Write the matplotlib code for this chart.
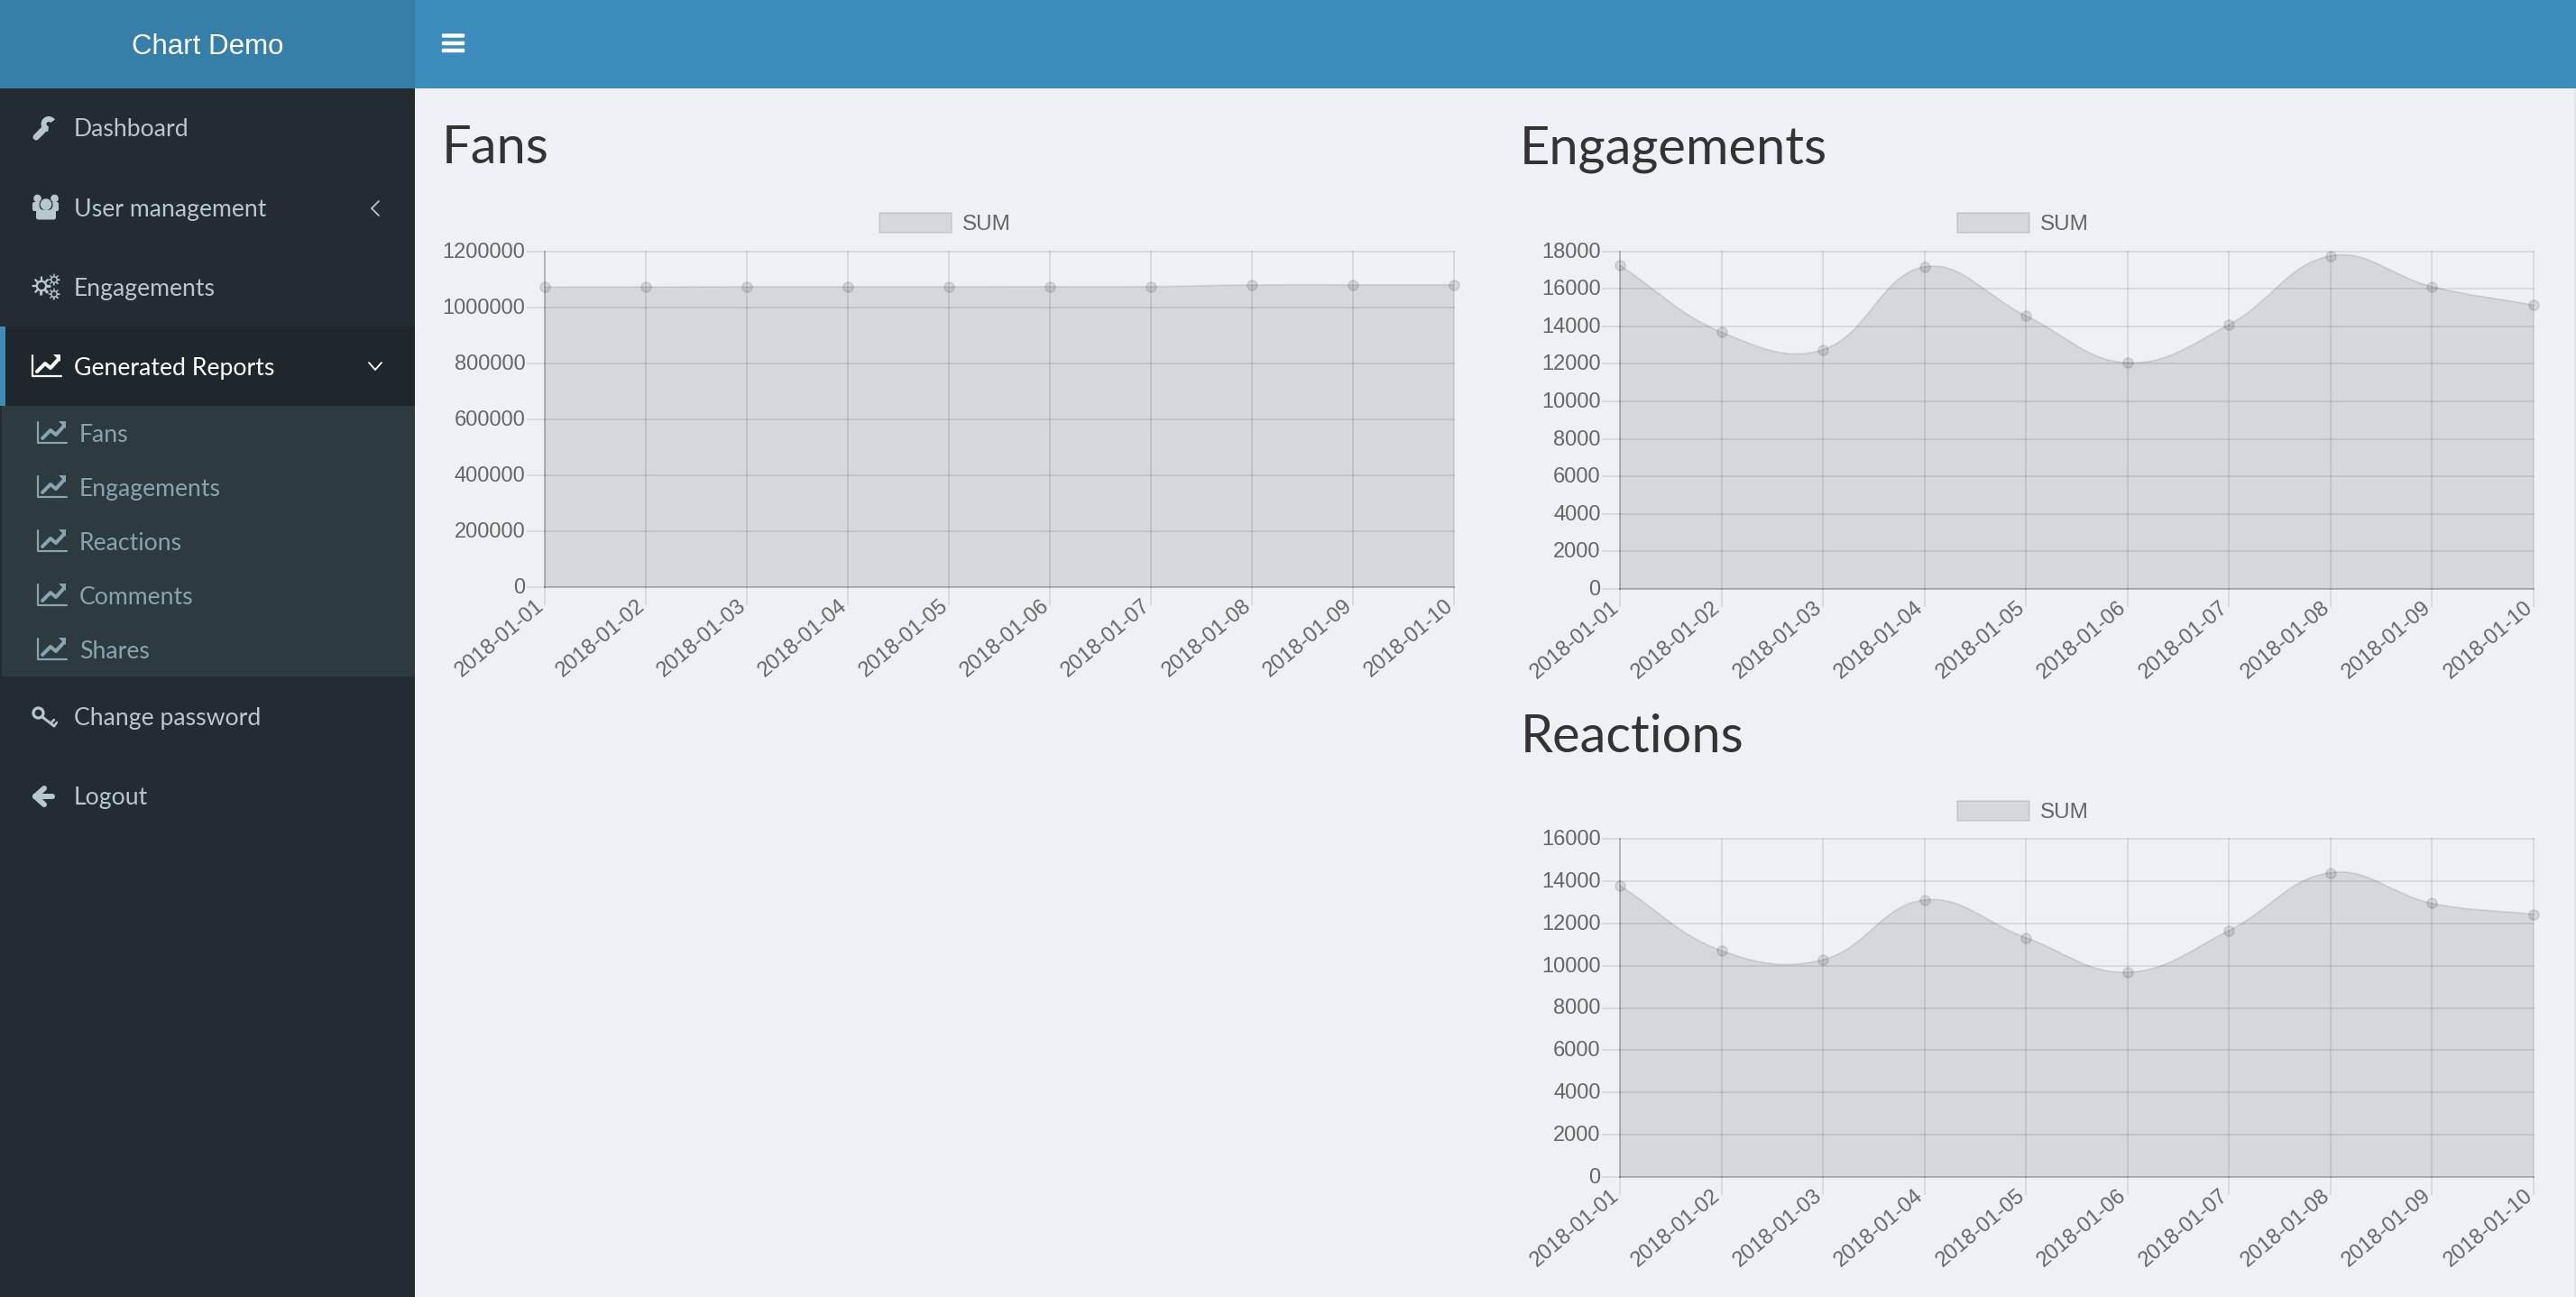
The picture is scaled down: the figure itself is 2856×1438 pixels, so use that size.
import numpy as np
import matplotlib
matplotlib.use('Agg')
import matplotlib.pyplot as plt
from matplotlib.patches import Rectangle, Circle, Wedge, PathPatch, Patch, FancyBboxPatch, Polygon
from matplotlib.path import Path
from matplotlib.transforms import ScaledTranslation

W, H = 2856, 1438

dates = ['2018-01-01', '2018-01-02', '2018-01-03', '2018-01-04', '2018-01-05',
         '2018-01-06', '2018-01-07', '2018-01-08', '2018-01-09', '2018-01-10']
fans = [1072000, 1072500, 1072800, 1073000, 1073000, 1073300, 1073400, 1079500, 1079800, 1079900]
engagements = [17250, 13690, 12750, 17170, 14560, 12060, 14090, 17750, 16110, 15130]
reactions = [13790, 10710, 10280, 13110, 11320, 9690, 11660, 14400, 12950, 12430]

fans_ticks = [0, 200000, 400000, 600000, 800000, 1000000, 1200000]
engagements_ticks = [0, 2000, 4000, 6000, 8000, 10000, 12000, 14000, 16000, 18000]
reactions_ticks = [0, 2000, 4000, 6000, 8000, 10000, 12000, 14000, 16000]

menu_main = ['Dashboard', 'User management', 'Engagements', 'Generated Reports']
menu_main_base = [151, 240, 328, 416]
menu_sub = ['Fans', 'Engagements', 'Reactions', 'Comments', 'Shares']
menu_sub_base = [490, 550, 610, 670, 730]
menu_bottom = ['Change password', 'Logout']
menu_bottom_base = [804, 892]

# AdminLTE blue skin, a little shifted by the screenshot
LOGO = '#367fa9'
NAVBAR = '#3c8dbc'
SIDEBAR = '#232c33'
ACTIVE = '#1f272d'
SUBMENU = '#2d3a40'
PAGE = '#edf0f5'
TXT_MAIN = '#b8c7ce'
TXT_SUB = '#8aa4af'
GRID = (0, 0, 0, 0.1)
GRID_ALPHA = 0.1
ZERO_ALPHA = 0.27
ZERO = (0, 0, 0, ZERO_ALPHA)
PX = 72 / 100  # one pixel in points

UI_FONT = 'Lato'
CHART_FONT = 'Liberation Sans'

fig = plt.figure(figsize=(W / 100, H / 100), dpi=100, facecolor=PAGE)
ui = fig.add_axes([0, 0, 1, 1], zorder=0)
ui.set_xlim(0, W)
ui.set_ylim(H, 0)
ui.axis('off')


def box(x0, y0, x1, y1, color):
    ui.add_patch(Rectangle((x0, y0), x1 - x0, y1 - y0, fc=color, ec='none'))


def stroke(xs, ys, color, lw=3.0):
    ui.plot(xs, ys, color=color, lw=lw * PX, solid_capstyle='round', solid_joinstyle='round')


def line_icon(x0, yc, color):
    stroke([x0, x0, x0 + 32], [yc - 13, yc + 10, yc + 10], color, 2.2)
    stroke([x0 + 5, x0 + 14, x0 + 20, x0 + 29], [yc + 5, yc - 4, yc + 1, yc - 9], color, 4.0)
    ui.add_patch(Polygon([(x0 + 23, yc - 14), (x0 + 31, yc - 14), (x0 + 31, yc - 6)], fc=color, ec='none'))


def gear(xc, yc, r, color, teeth=8):
    ang = np.linspace(0, 2 * np.pi, teeth * 8 + 1)
    rad = r * (0.8 + 0.2 * np.sign(np.cos(teeth * ang)))
    ui.add_patch(Polygon(np.c_[xc + rad * np.cos(ang), yc + rad * np.sin(ang)], fc=color, ec='none'))
    ui.add_patch(Circle((xc, yc), r * 0.38, fc=SIDEBAR, ec='none'))


def wrench_icon(color):
    stroke([40, 50], [152, 142], color, 7)
    ui.add_patch(Wedge((54, 137.5), 8.5, 95, 325, width=6, fc=color, ec='none'))
    ui.add_patch(Circle((40, 151.5), 1.2, fc=SIDEBAR, ec='none'))


def users_icon(color):
    for xc in (41.5, 60.5):
        ui.add_patch(Circle((xc, 220), 4.3, fc=color, ec='none'))
    ui.add_patch(FancyBboxPatch((38, 226), 25, 6, boxstyle='round,pad=2', fc=color, ec='none'))
    ui.add_patch(Circle((51, 227), 7.5, fc=SIDEBAR, ec='none'))
    ui.add_patch(Circle((51, 226.5), 6.3, fc=color, ec='none'))
    ui.add_patch(FancyBboxPatch((42.5, 235), 17, 6, boxstyle='round,pad=2.5', fc=color, ec='none'))


def key_icon(color):
    ui.add_patch(Circle((42.5, 790.5), 5.5, fc='none', ec=color, lw=3.2 * PX))
    stroke([47, 60], [795, 805], color, 3)
    stroke([56, 60], [802, 798], color, 2.5)
    stroke([60, 63], [805, 801], color, 2.5)


def arrow_icon(color):
    stroke([39, 58], [883, 883], color, 6)
    stroke([39, 49], [883, 874], color, 6)
    stroke([39, 49], [883, 892], color, 6)


# page frame
box(0, 0, 460, 98, LOGO)
box(460, 0, W, 98, NAVBAR)
box(0, 98, 460, H, SIDEBAR)
box(0, 362, 460, 450, ACTIVE)
box(0, 362, 6, 450, NAVBAR)
box(2, 450, 460, 750, SUBMENU)
box(2854, 98, W, H, '#e3e6ea')

ui.text(230, 60, 'Chart Demo', color='white', fontsize=22.5, family=CHART_FONT, ha='center', va='baseline')
for yy in (39.5, 48, 56):
    ui.add_patch(FancyBboxPatch((491, yy - 1), 23, 2, boxstyle='round,pad=1.2', fc='white', ec='none'))

for label, yy in zip(menu_main, menu_main_base):
    col = 'white' if label == 'Generated Reports' else TXT_MAIN
    ui.text(82, yy, label, color=col, fontsize=19.2, family=UI_FONT, ha='left', va='baseline')
for label, yy in zip(menu_sub, menu_sub_base):
    ui.text(88, yy, label, color=TXT_SUB, fontsize=19.2, family=UI_FONT, ha='left', va='baseline')
    line_icon(42, yy - 9, TXT_SUB)
for label, yy in zip(menu_bottom, menu_bottom_base):
    ui.text(82, yy, label, color=TXT_MAIN, fontsize=19.2, family=UI_FONT, ha='left', va='baseline')

wrench_icon(TXT_MAIN)
users_icon(TXT_MAIN)
gear(46, 317, 10.5, TXT_MAIN)
gear(60, 310, 6.5, TXT_MAIN)
gear(60, 326, 6.5, TXT_MAIN)
line_icon(36, 407, 'white')
key_icon(TXT_MAIN)
arrow_icon(TXT_MAIN)
stroke([420, 412, 420], [223, 231, 239], TXT_MAIN, 1.8)
stroke([409, 416, 423], [402, 410, 402], 'white', 1.8)


def chart_curve(ax, values):
    # same bezier control points chart.js uses (tension 0.4), worked out in pixels
    t = 0.4
    pts = ax.transData.transform(np.c_[np.arange(len(values)), values])
    verts = [pts[0]]
    codes = [Path.MOVETO]
    ctrl = []
    for i, cur in enumerate(pts):
        prev = pts[max(i - 1, 0)]
        nxt = pts[min(i + 1, len(pts) - 1)]
        d01 = np.hypot(*(cur - prev))
        d12 = np.hypot(*(nxt - cur))
        s = d01 / (d01 + d12)
        ctrl.append((cur - t * s * (nxt - prev), cur + t * (1 - s) * (nxt - prev)))
    for i in range(1, len(pts)):
        verts += [ctrl[i - 1][1], ctrl[i][0], pts[i]]
        codes += [Path.CURVE4] * 3
    inv = ax.transData.inverted()
    return inv.transform(np.array(verts)), codes


def draw_chart(title, title_x, title_base, values, ticks, left, right, top, bottom, legend_x, legend_y):
    ui.text(title_x, title_base, title, color='#333333', fontsize=41.7, family=UI_FONT, ha='left', va='baseline')

    ax = fig.add_axes([left / W, 1 - bottom / H, (right - left) / W, (bottom - top) / H], zorder=2)
    ax.patch.set_alpha(0)
    for sp in ax.spines.values():
        sp.set_visible(False)
    ax.set_xlim(0, len(dates) - 1)
    ax.set_ylim(ticks[0], ticks[-1])
    ax.set_yticks(ticks)
    ax.set_yticklabels([str(t) for t in ticks], family=CHART_FONT, fontsize=17, color='#666666')
    ax.set_xticks(range(len(dates)))
    ax.set_xticklabels(dates, rotation=40, ha='right', va='top', rotation_mode='anchor',
                       family=CHART_FONT, fontsize=17, color='#666666')
    ax.tick_params(length=20 * PX, width=1.8 * PX, color=GRID)
    ax.tick_params(axis='y', pad=1)
    ax.tick_params(axis='x', pad=-7.5)
    ax.grid(True, color='black', alpha=GRID_ALPHA, lw=1.8 * PX)
    ax.set_axisbelow(False)
    for line in ax.get_xgridlines() + ax.get_ygridlines():
        line.set_clip_on(False)
    ax.get_xgridlines()[0].set_alpha(ZERO_ALPHA)
    ax.get_ygridlines()[0].set_alpha(ZERO_ALPHA)
    ax.xaxis.get_major_ticks()[0].tick1line.set_color(ZERO)
    ax.yaxis.get_major_ticks()[0].tick1line.set_color(ZERO)
    nudge_x = ScaledTranslation(-11 * PX / 72, 0, fig.dpi_scale_trans)
    for lab in ax.get_xticklabels():
        lab.set_transform(lab.get_transform() + nudge_x)
    nudge_y = ScaledTranslation(0, 1.5 * PX / 72, fig.dpi_scale_trans)
    for lab in ax.get_yticklabels():
        lab.set_transform(lab.get_transform() + nudge_y)

    verts, codes = chart_curve(ax, values)
    area = np.vstack([verts, [[len(values) - 1, 0], [0, 0], verts[0]]])
    ax.add_patch(PathPatch(Path(area, codes + [Path.LINETO, Path.LINETO, Path.CLOSEPOLY]),
                           fc=GRID, ec='none', clip_on=False))
    ax.add_patch(PathPatch(Path(verts, codes), fc='none', ec=GRID, lw=1.8 * PX, clip_on=False))
    ax.plot(range(len(values)), values, 'o', ms=11 * PX, mfc=GRID, mec=GRID, mew=1.8 * PX, clip_on=False)

    ax.legend(handles=[Patch(fc=GRID, ec=GRID, lw=1.8 * PX, label='SUM')], loc='center',
              bbox_to_anchor=(legend_x / W, 1 - legend_y / H), bbox_transform=fig.transFigure,
              frameon=False, borderpad=0, borderaxespad=0, handlelength=3.3, handleheight=1.05,
              handletextpad=0.47, prop={'family': CHART_FONT, 'size': 17.5}, labelcolor='#666666')


draw_chart('Fans', 490, 181, fans, fans_ticks, 604, 1612, 278.5, 651, 1048, 248)
draw_chart('Engagements', 1685, 181, engagements, engagements_ticks, 1796, 2809, 278.5, 653, 2243, 248)
draw_chart('Reactions', 1686, 834, reactions, reactions_ticks, 1796, 2809, 930, 1305, 2243, 900)

fig.savefig('out.png', dpi=100, facecolor=PAGE)
